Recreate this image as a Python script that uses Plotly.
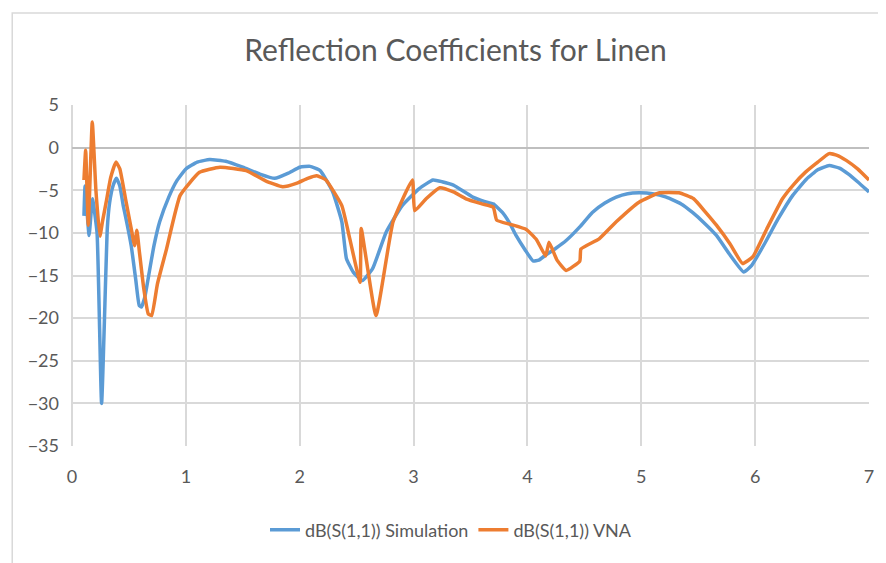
import plotly.graph_objects as go

# frequency (GHz) and dB(S(1,1))
sim_x = [0.105, 0.115, 0.15, 0.18, 0.22, 0.26, 0.31, 0.33, 0.36, 0.39, 0.42, 0.45, 0.48, 0.52,
         0.56, 0.59, 0.61, 0.64, 0.68, 0.72, 0.77, 0.85, 0.92, 1.0, 1.1, 1.21, 1.35, 1.5, 1.65,
         1.78, 1.9, 2.0, 2.09, 2.18, 2.29, 2.37, 2.41, 2.47, 2.55, 2.64, 2.76, 2.90, 3.05, 3.17,
         3.25, 3.35, 3.52, 3.62, 3.70, 3.78, 3.85, 3.90, 3.98, 4.05, 4.10, 4.16, 4.25, 4.34,
         4.46, 4.57, 4.68, 4.78, 4.88, 4.98, 5.1, 5.22, 5.35, 5.45, 5.55, 5.66, 5.78, 5.90,
         5.97, 6.09, 6.2, 6.33, 6.45, 6.55, 6.65, 6.74, 6.82, 6.9, 7.0]
sim_y = [-8.0, -4.5, -10.3, -6.0, -10.0, -30.0, -9.5, -6.5, -4.5, -3.6, -4.5, -6.8, -8.7, -11.5,
         -15.5, -18.5, -18.7, -17.5, -14.5, -11.5, -8.7, -5.8, -3.9, -2.5, -1.7, -1.4, -1.6, -2.3,
         -3.1, -3.6, -3.0, -2.3, -2.2, -2.7, -5.2, -8.7, -13.0, -14.6, -15.6, -14.2, -9.9, -6.8,
         -4.8, -3.8, -4.0, -4.4, -5.8, -6.3, -6.6, -7.6, -9.0, -10.3, -12.0, -13.3, -13.2, -12.6,
         -11.8, -10.9, -9.3, -7.6, -6.5, -5.8, -5.4, -5.3, -5.4, -5.8, -6.6, -7.6, -8.8, -10.3,
         -12.6, -14.6, -13.8, -11.1, -8.4, -5.6, -3.7, -2.6, -2.1, -2.4, -3.1, -4.0, -5.2]

vna_x = [0.105, 0.12, 0.143, 0.178, 0.21, 0.245, 0.27, 0.30, 0.34, 0.386, 0.42, 0.47, 0.52, 0.55,
         0.57, 0.59, 0.63, 0.67, 0.70, 0.75, 0.83, 0.95, 1.12, 1.30, 1.53, 1.7, 1.85, 1.97, 2.07,
         2.15, 2.23, 2.37, 2.44, 2.53, 2.54, 2.67, 2.82, 2.99, 3.01, 3.11, 3.23, 3.35, 3.46, 3.60,
         3.70, 3.73, 3.85, 3.99, 4.08, 4.16, 4.19, 4.26, 4.34, 4.46, 4.47, 4.63, 4.78, 4.98, 5.16,
         5.33, 5.46, 5.56, 5.66, 5.78, 5.89, 5.98, 6.1, 6.24, 6.34, 6.44, 6.55, 6.65, 6.72, 6.80,
         6.9, 7.0]
vna_y = [-3.8, -0.3, -9.1, 3.0, -5.0, -10.4, -8.5, -6.4, -3.5, -1.7, -2.5, -6.0, -9.5, -11.5,
         -9.7, -12.0, -16.5, -19.5, -19.7, -16.0, -11.9, -5.6, -2.9, -2.3, -2.7, -3.9, -4.6, -4.2,
         -3.6, -3.3, -3.8, -6.8, -10.7, -15.8, -9.5, -19.7, -8.7, -3.8, -7.4, -6.0, -4.7, -5.2,
         -6.0, -6.6, -7.0, -8.5, -9.0, -9.6, -10.8, -12.7, -11.1, -13.2, -14.4, -13.3, -11.9,
         -10.7, -8.7, -6.4, -5.3, -5.3, -6.0, -7.5, -9.1, -11.3, -13.6, -12.8, -9.6, -6.0, -4.3,
         -2.9, -1.7, -0.7, -0.9, -1.5, -2.5, -3.8]

FONT = "Lato, Open Sans, sans-serif"
GREY = "#595959"

fig = go.Figure()
fig.add_trace(go.Scatter(x=sim_x, y=sim_y, mode="lines", name="dB(S(1,1)) Simulation",
                         line=dict(color="#5B9BD5", width=3.5, shape="spline", smoothing=0.4)))
fig.add_trace(go.Scatter(x=vna_x, y=vna_y, mode="lines", name="dB(S(1,1)) VNA",
                         line=dict(color="#ED7D31", width=3.5, shape="spline", smoothing=0.4)))

# light outer chart border like the Excel chart area
fig.add_shape(type="rect", xref="paper", yref="paper", x0=-0.075, y0=-0.6, x1=1.2, y1=1.27,
              line=dict(color="#d9d9d9", width=1.5), layer="below")

# the page body has an 8px margin, so the figure is shifted up/left by that much
fig.update_layout(
    width=886, height=563,
    margin=dict(l=64, r=25, t=97, b=125),
    paper_bgcolor="white", plot_bgcolor="white",
    font=dict(family=FONT, color=GREY, size=18),
    title=dict(text="Reflection Coefficients for Linen", x=0.505, xanchor="center",
               y=1 - 42 / 563, yanchor="middle", font=dict(size=30, color=GREY)),
    showlegend=True,
    legend=dict(orientation="h", xref="container", x=0.5, xanchor="center",
                yref="container", y=1 - 522 / 563, yanchor="middle",
                font=dict(size=18, color=GREY)),
)
fig.update_xaxes(range=[0, 7], dtick=1, showgrid=True, gridcolor="#d9d9d9", gridwidth=2,
                 zeroline=True, zerolinecolor="#d9d9d9", zerolinewidth=2,
                 showline=False, ticks="", ticklabelstandoff=18)
fig.update_yaxes(range=[-35, 5], dtick=5, showgrid=True, gridcolor="#d9d9d9", gridwidth=2,
                 zeroline=True, zerolinecolor="#bfbfbf", zerolinewidth=2,
                 showline=False, ticks="", ticklabelstandoff=12)

fig.write_html("out.html")
